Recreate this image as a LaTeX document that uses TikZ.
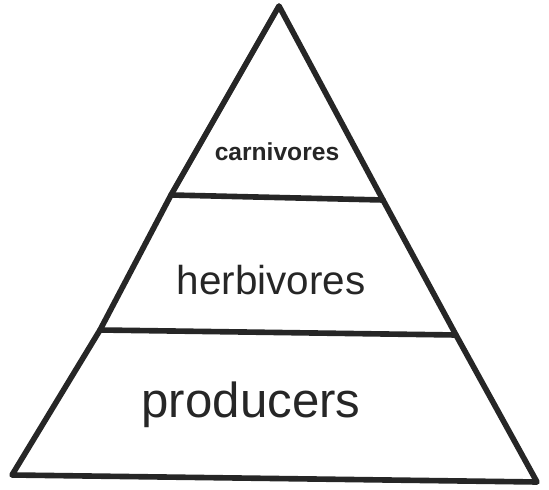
\documentclass[tikz,border=0pt]{standalone}
\usepackage{fontspec}
\setmainfont{Liberation Sans}
\usetikzlibrary{positioning}

\begin{document}
\begin{tikzpicture}[
  x=0.02cm, y=-0.02cm,
  tier/.style={draw=black!85, line width=3.2pt, line join=round, line cap=round},
  tierlabel/.style={anchor=base, inner sep=0pt, text=black!85}
]
  \useasboundingbox (0,0) rectangle (549,490);
  % corners of the pyramid and its levels
  \coordinate (apex) at (279,6);
  \coordinate (c1) at (171,195);
  \coordinate (c2) at (383,200);
  \coordinate (h1) at (100,330);
  \coordinate (h2) at (456,335);
  \coordinate (bl) at (12,475);
  \coordinate (br) at (537,482);
  \draw[tier] (apex) -- (c1) -- (h1) -- (bl) -- (br) -- (h2) -- (c2) -- cycle;
  \draw[tier] (c1) -- (c2);
  \draw[tier] (h1) -- (h2);
  % level names
  \node[tierlabel, font=\fontsize{14}{16}\selectfont\bfseries] (carn) at (277,160) {carnivores};
  \node[tierlabel, font=\fontsize{23}{26}\selectfont] (herb) at (271,295) {herbivores};
  \node[tierlabel, font=\fontsize{28}{32}\selectfont] (prod) at (251,418) {producers};
\end{tikzpicture}
\end{document}
